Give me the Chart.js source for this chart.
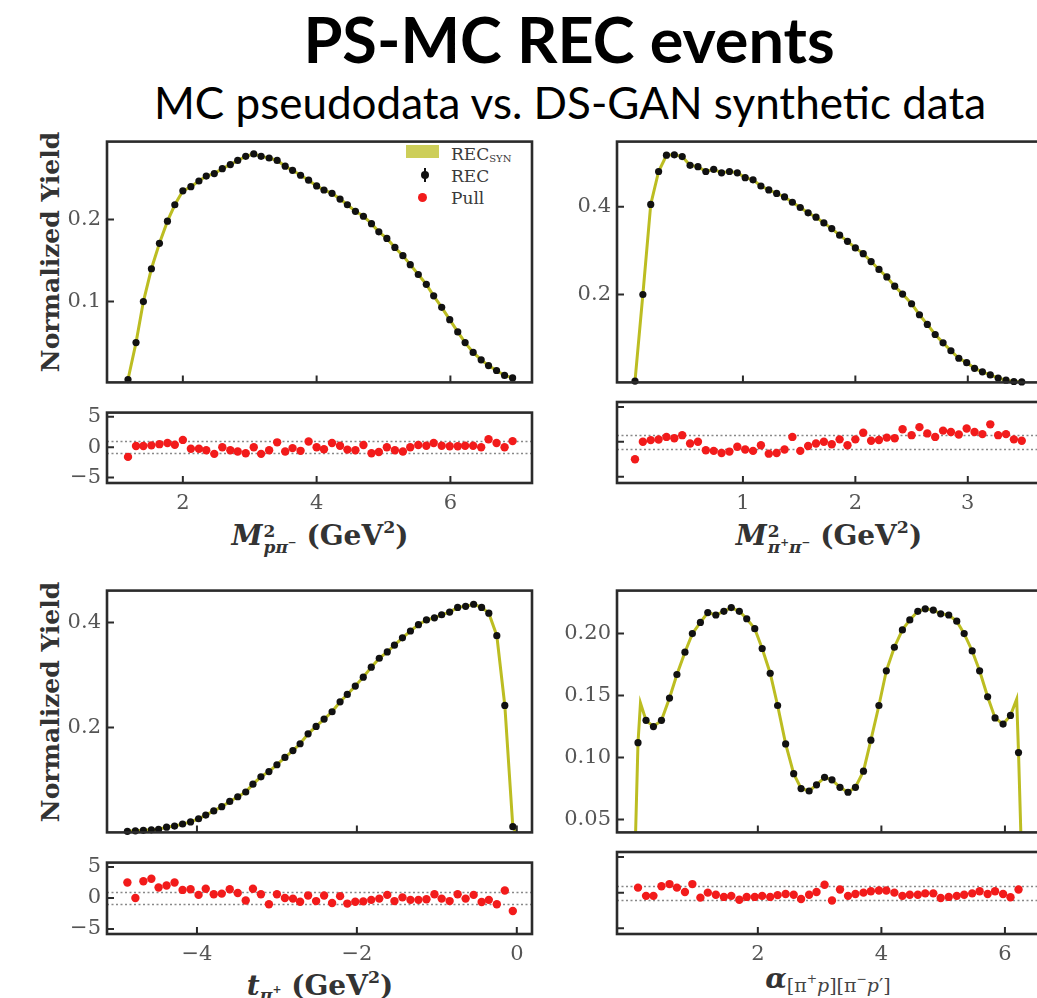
<!DOCTYPE html>
<html>
<head>
<meta charset="utf-8">
<script src="https://cdn.jsdelivr.net/npm/chart.js@4.4.1/dist/chart.umd.min.js"></script>
<style>
  body { margin: 0; background: #fff; overflow: hidden; }
  #fig { position: relative; width: 1037px; height: 998px; overflow: hidden; background: #fff; }
  #fig canvas { position: absolute; }
  .txt { position: absolute; white-space: nowrap; line-height: 1; }
  .ttl { font-family: Lato, sans-serif; color: #000; transform: translateX(-50%); }
  .ytl { font: bold 25px 'DejaVu Serif', serif; color: #333; transform: translate(-50%, -50%) rotate(-90deg); }
  .xt { font: bold 28px 'DejaVu Serif', serif; color: #333; transform: translateX(-50%); }
  .mi { font-style: italic; }
  .ss { display: inline-block; font-size: 17px; line-height: 16px; vertical-align: -8px; text-align: left; margin-left: 1px; }
  .ss > span { display: block; }
  sup { font-size: 0.62em; vertical-align: 0.7em; line-height: 0; }
  sub { font-size: 0.62em; vertical-align: -0.35em; line-height: 0; }
  .asub { font-size: 19px; font-weight: normal; vertical-align: -0.2em; color: #444; }
  .asub sup { font-size: 0.65em; }
  .leg { font: 17px 'DejaVu Serif', serif; color: #3a3a3a; }
  .leg sub { font-size: 10px; vertical-align: -0.2em; }
  .mk { position: absolute; }
</style>
</head>
<body>
<div id="fig">
  <div class="txt ttl" style="left:569px; top:7px; font-size:63px; font-weight:bold;">PS-MC REC events</div>
  <div class="txt ttl" style="left:570px; top:80px; font-size:44px;">MC pseudodata vs. DS-GAN synthetic data</div>

  <div class="txt ytl" style="left:50px; top:252px;">Normalized Yield</div>
  <div class="txt ytl" style="left:50px; top:702px;">Normalized Yield</div>

  <div class="txt xt" style="left:320px; top:519px;"><span class="mi">M</span><span class="ss"><span>2</span><span class="mi">pπ<sup>−</sup></span></span> (GeV<sup>2</sup>)</div>
  <div class="txt xt" style="left:829px; top:519px;"><span class="mi">M</span><span class="ss"><span>2</span><span class="mi">π<sup>+</sup>π<sup>−</sup></span></span> (GeV<sup>2</sup>)</div>
  <div class="txt xt" style="left:320px; top:969px;"><span class="mi">t</span><sub class="mi">π<sup>+</sup></sub> (GeV<sup>2</sup>)</div>
  <div class="txt xt" style="left:828px; top:962px;"><span class="mi">α</span><span class="asub">[π<sup>+</sup><i>p</i>][π<sup>−</sup><i>p</i>′]</span></div>

  <div class="mk" style="left:406px; top:145px; width:33px; height:13px; background:rgba(188,189,34,0.75);"></div>
  <div class="txt leg" style="left:451px; top:144px;">REC<sub>SYN</sub></div>
  <div class="mk" style="left:424px; top:168px; width:2px; height:14px; background:#111;"></div>
  <div class="mk" style="left:421px; top:171px; width:8px; height:8px; border-radius:50%; background:#111;"></div>
  <div class="txt leg" style="left:451px; top:166px;">REC</div>
  <div class="mk" style="left:418px; top:193px; width:9px; height:9px; border-radius:50%; background:#f21b1b;"></div>
  <div class="txt leg" style="left:451px; top:188px;">Pull</div>
</div>
<script>
/* ---------- DATA ---------- */
// M^2(p pi-)
const m2pPimX = [1.18,1.30,1.41,1.53,1.65,1.77,1.88,2.00,2.12,2.24,2.35,2.47,2.59,2.71,2.82,2.94,3.06,3.17,3.29,3.41,3.53,3.64,3.76,3.88,4.00,4.11,4.23,4.35,4.46,4.58,4.70,4.82,4.93,5.05,5.17,5.29,5.40,5.52,5.64,5.75,5.87,5.99,6.11,6.22,6.34,6.46,6.57,6.69,6.81,6.93];
const m2pPimRec = [0.005,0.050,0.100,0.140,0.171,0.198,0.218,0.235,0.240,0.247,0.253,0.256,0.262,0.267,0.272,0.277,0.280,0.277,0.275,0.272,0.265,0.260,0.254,0.248,0.241,0.236,0.232,0.225,0.218,0.210,0.204,0.195,0.185,0.177,0.166,0.156,0.145,0.133,0.121,0.107,0.093,0.078,0.063,0.050,0.038,0.029,0.022,0.016,0.010,0.007];
const m2pPimPull = [-1.6,0.2,0.2,0.3,0.5,0.7,0.4,1.2,-0.25,-0.25,-0.5,-1.1,0,-0.5,-0.7,-1.0,0,-1.1,-0.5,0.8,-0.7,-0.15,-0.6,0.95,0,-0.35,0.7,0.25,-0.4,-0.5,0.35,-1.0,-0.8,0,-0.5,-0.7,0,0.35,0.25,0.7,0.25,0.15,0.15,0.25,0.25,0,1.3,0.7,0,1.0];
const m2pPimSynEdgeX = [];
const m2pPimSynEdgeY = [];

// M^2(pi+ pi-)
const m2PipPimX = [0.04,0.11,0.18,0.25,0.32,0.39,0.46,0.53,0.60,0.67,0.74,0.81,0.88,0.95,1.02,1.09,1.16,1.23,1.30,1.37,1.44,1.51,1.58,1.65,1.72,1.79,1.86,1.93,2.00,2.07,2.14,2.21,2.28,2.35,2.42,2.50,2.57,2.64,2.71,2.78,2.85,2.92,2.99,3.06,3.13,3.20,3.27,3.34,3.41,3.48];
const m2PipPimRec = [0.003,0.200,0.405,0.480,0.517,0.518,0.514,0.494,0.491,0.480,0.485,0.477,0.480,0.477,0.466,0.461,0.447,0.438,0.430,0.422,0.410,0.398,0.386,0.376,0.363,0.350,0.335,0.321,0.306,0.293,0.275,0.257,0.240,0.219,0.201,0.179,0.154,0.132,0.109,0.090,0.072,0.055,0.045,0.032,0.024,0.017,0.010,0.005,0.002,0.001];
const m2PipPimPull = [-2.5,0,0.24,0.33,0.7,0.5,0.95,-0.25,0,-1.2,-1.3,-1.6,-1.4,-0.7,-1.1,-1.3,-0.5,-1.7,-1.6,-1.1,0.7,-1.3,-0.6,-0.25,0,-0.35,0.35,-0.5,0.35,1.3,0.15,0.25,0.6,0.5,1.8,0.95,2.1,1.2,0.7,1.6,1.4,1.05,1.9,1.4,1.1,2.5,0.95,1.1,0.35,0.15];
const m2PipPimSynEdgeX = [];
const m2PipPimSynEdgeY = [];

// t(pi+)
const tPipX = [-4.87,-4.77,-4.67,-4.57,-4.48,-4.38,-4.28,-4.18,-4.08,-3.98,-3.89,-3.79,-3.69,-3.59,-3.49,-3.39,-3.30,-3.20,-3.10,-3.00,-2.90,-2.80,-2.71,-2.61,-2.51,-2.41,-2.31,-2.21,-2.12,-2.02,-1.92,-1.82,-1.72,-1.62,-1.53,-1.43,-1.33,-1.23,-1.13,-1.03,-0.94,-0.84,-0.74,-0.64,-0.54,-0.44,-0.35,-0.25,-0.15,-0.05];
const tPipRec = [0.002,0.003,0.004,0.005,0.006,0.010,0.012,0.016,0.020,0.026,0.033,0.041,0.049,0.059,0.068,0.077,0.092,0.106,0.116,0.129,0.143,0.156,0.169,0.188,0.202,0.216,0.230,0.249,0.263,0.279,0.296,0.315,0.332,0.344,0.357,0.371,0.384,0.396,0.405,0.409,0.415,0.420,0.429,0.431,0.435,0.429,0.418,0.375,0.242,0.011];
const tPipPull = [2.5,0,2.7,3.1,1.7,2.0,2.5,1.3,1.4,0.5,1.5,0.6,0.7,1.4,0.8,-0.4,1.5,0.6,-1.0,0.6,0,-0.1,-0.6,0.4,-0.5,0.4,-0.8,0.3,-0.9,-0.6,-0.55,-0.3,-0.1,0.5,-0.5,0.1,-0.3,-0.3,-0.2,0.6,-0.1,-0.5,0.6,-0.1,0.5,-0.65,-0.3,-1.0,1.2,-2.1];
const tPipSynEdgeX = [-0.01];
const tPipSynEdgeY = [0.0];

// alpha[pi+ p][pi- p']
const alphaX = [0.06,0.19,0.31,0.44,0.57,0.69,0.82,0.94,1.07,1.19,1.32,1.45,1.57,1.70,1.82,1.95,2.07,2.20,2.32,2.45,2.58,2.70,2.83,2.95,3.08,3.20,3.33,3.46,3.58,3.71,3.83,3.96,4.08,4.21,4.34,4.46,4.59,4.71,4.84,4.96,5.09,5.22,5.34,5.47,5.59,5.72,5.84,5.97,6.09,6.22];
const alphaRec = [0.112,0.130,0.125,0.130,0.148,0.167,0.185,0.200,0.209,0.217,0.215,0.218,0.221,0.218,0.212,0.204,0.188,0.168,0.142,0.111,0.087,0.075,0.073,0.078,0.084,0.082,0.076,0.072,0.076,0.089,0.114,0.142,0.170,0.189,0.203,0.211,0.218,0.220,0.219,0.216,0.215,0.210,0.200,0.186,0.170,0.149,0.132,0.127,0.134,0.104];
const alphaPull = [0.7,-0.45,-0.45,0.9,1.2,0.7,0.1,1.2,-0.7,0,-0.3,-0.6,-0.45,-1.0,-0.6,-0.6,-0.45,-0.6,-0.35,-0.2,-0.3,-0.9,-0.3,0.1,1.1,-1.1,0.45,-0.45,-0.2,0,0.2,0.3,0.3,0,-0.45,-0.3,-0.3,-0.1,-0.1,-0.75,-0.6,-0.45,-0.3,-0.1,0.2,-0.2,0.2,-0.2,-0.65,0.45];
const alphaSynEdgeX = [0.0,0.10,6.19,6.28];
const alphaSynEdgeY = [0.0,0.144,0.147,0.0];

// ticks
const m2pPimXTicks = [2, 4, 6];
const m2pPimYTicks = [0.1, 0.2];
const m2PipPimXTicks = [1, 2, 3];
const m2PipPimYTicks = [0.2, 0.4];
const tPipXTicks = [-4, -2, 0];
const tPipYTicks = [0.2, 0.4];
const alphaXTicks = [2, 4, 6];
const alphaYTicks = [0.05, 0.10, 0.15, 0.20];
const pullYTicks = [-5, 0, 5];
const pullBand = [-1, 1];

/* ---------- SETUP ---------- */
Chart.defaults.font.family = "'DejaVu Serif', serif";
Chart.defaults.font.size = 21;
Chart.defaults.color = '#555';

const fig = document.getElementById('fig');

// frame, inward ticks and pull band lines
const frame = {
  id: 'frame',
  beforeDatasetsDraw(chart, args, opts) {
    if (!opts.pullLines) return;
    const { ctx, chartArea: a } = chart;
    const y = chart.scales.y;
    ctx.save();
    ctx.setLineDash([2, 2.5]);
    ctx.strokeStyle = '#888';
    ctx.lineWidth = 1.3;
    opts.pullLines.forEach(v => {
      const py = Math.round(y.getPixelForValue(v)) + 0.5;
      ctx.beginPath();
      ctx.moveTo(a.left, py);
      ctx.lineTo(a.right, py);
      ctx.stroke();
    });
    ctx.restore();
  },
  afterDraw(chart) {
    const { ctx, chartArea: a, scales: { x, y } } = chart;
    ctx.save();
    ctx.strokeStyle = '#2b2b2b';
    ctx.lineWidth = 2;
    ctx.beginPath();
    x.ticks.forEach(t => {
      const px = x.getPixelForValue(t.value);
      ctx.moveTo(px, a.bottom);
      ctx.lineTo(px, a.bottom - 7);
    });
    y.ticks.forEach(t => {
      const py = y.getPixelForValue(t.value);
      ctx.moveTo(a.left, py);
      ctx.lineTo(a.left + 7, py);
    });
    ctx.stroke();
    ctx.lineWidth = 2.6;
    ctx.strokeRect(a.left, a.top, a.right - a.left, a.bottom - a.top);
    ctx.restore();
  }
};

function fmt(dec) {
  return v => (v < 0 ? '\u2212' : '') + Math.abs(v).toFixed(dec);
}

function pts(xs, ys) {
  return xs.map((x, i) => ({ x, y: ys[i] }));
}

function recSet(xs, ys) {
  return { data: pts(xs, ys), showLine: false, pointRadius: 3.6, pointBackgroundColor: '#111', pointBorderWidth: 0, clip: false };
}

function synSet(xs, ys, ex, ey) {
  const data = pts(xs, ys).concat(pts(ex, ey)).sort((a, b) => a.x - b.x);
  return { data, borderColor: '#bcbd22', borderWidth: 3, pointRadius: 0, tension: 0 };
}

function pullSet(xs, ys) {
  return { data: pts(xs, ys), showLine: false, pointRadius: 4.2, pointBackgroundColor: '#f21b1b', pointBorderWidth: 0, clip: false };
}

/* ---------- PANEL ---------- */
function addPanel(box, xr, yr, xTicks, yTicks, datasets, o) {
  const L = 70, T = 8, R = 8, B = o.xLabels ? 44 : 8;
  const cv = document.createElement('canvas');
  cv.width = box[2] + L + R;
  cv.height = box[3] + T + B;
  cv.style.left = (box[0] - L) + 'px';
  cv.style.top = (box[1] - T) + 'px';
  fig.appendChild(cv);

  new Chart(cv, {
    type: 'line',
    data: { datasets },
    options: {
      responsive: false,
      animation: false,
      events: [],
      devicePixelRatio: 1,
      layout: { padding: { top: T, right: R, left: 0, bottom: 0 } },
      plugins: {
        legend: { display: false },
        tooltip: { enabled: false },
        frame: { pullLines: o.pullLines }
      },
      scales: {
        x: {
          type: 'linear', min: xr[0], max: xr[1],
          grid: { display: false, drawTicks: false },
          border: { display: false },
          ticks: { display: !!o.xLabels, padding: 8, maxRotation: 0, callback: fmt(0) },
          afterBuildTicks: s => { s.ticks = xTicks.map(v => ({ value: v })); },
          afterFit: s => { s.height = B; }
        },
        y: {
          type: 'linear', min: yr[0], max: yr[1],
          grid: { display: false, drawTicks: false },
          border: { display: false },
          ticks: { display: !!o.yLabels, padding: 6, callback: fmt(o.yDec || 0) },
          afterBuildTicks: s => { s.ticks = yTicks.map(v => ({ value: v })); },
          afterFit: s => { s.width = L; }
        }
      }
    },
    plugins: [frame]
  });
}

/* ---------- BUILD ---------- */
// top-left: M2 p pi-
addPanel([107, 131, 425, 262], [0.866, 7.22], [0.0015, 0.295], m2pPimXTicks, m2pPimYTicks,
  [recSet(m2pPimX, m2pPimRec), synSet(m2pPimX, m2pPimRec, m2pPimSynEdgeX, m2pPimSynEdgeY)],
  { yLabels: true, yDec: 1 });
addPanel([107, 402, 425, 81], [0.866, 7.22], [-5.9, 5.7], m2pPimXTicks, pullYTicks,
  [pullSet(m2pPimX, m2pPimPull)],
  { xLabels: true, yLabels: true, pullLines: pullBand });

// top-right: M2 pi+ pi-
addPanel([617, 131, 425, 262], [-0.12, 3.66], [0.0, 0.548], m2PipPimXTicks, m2PipPimYTicks,
  [recSet(m2PipPimX, m2PipPimRec), synSet(m2PipPimX, m2PipPimRec, m2PipPimSynEdgeX, m2PipPimSynEdgeY)],
  { yLabels: true, yDec: 1 });
addPanel([617, 402, 425, 81], [-0.12, 3.66], [-5.9, 5.7], m2PipPimXTicks, pullYTicks,
  [pullSet(m2PipPimX, m2PipPimPull)],
  { xLabels: true, yLabels: false, pullLines: pullBand });

// bottom-left: t pi+
addPanel([107, 580, 425, 263], [-5.125, 0.19], [0.0, 0.461], tPipXTicks, tPipYTicks,
  [recSet(tPipX, tPipRec), synSet(tPipX, tPipRec, tPipSynEdgeX, tPipSynEdgeY)],
  { yLabels: true, yDec: 1 });
addPanel([107, 852, 425, 82], [-5.125, 0.19], [-5.8, 5.7], tPipXTicks, pullYTicks,
  [pullSet(tPipX, tPipPull)],
  { xLabels: true, yLabels: true, pullLines: pullBand });

// bottom-right: alpha
addPanel([617, 580, 425, 263], [-0.28, 6.6], [0.0396, 0.2347], alphaXTicks, alphaYTicks,
  [recSet(alphaX, alphaRec), synSet(alphaX, alphaRec, alphaSynEdgeX, alphaSynEdgeY)],
  { yLabels: true, yDec: 2 });
addPanel([617, 852, 425, 82], [-0.28, 6.6], [-5.8, 5.7], alphaXTicks, pullYTicks,
  [pullSet(alphaX, alphaPull)],
  { xLabels: true, yLabels: false, pullLines: pullBand });
</script>
</body>
</html>
